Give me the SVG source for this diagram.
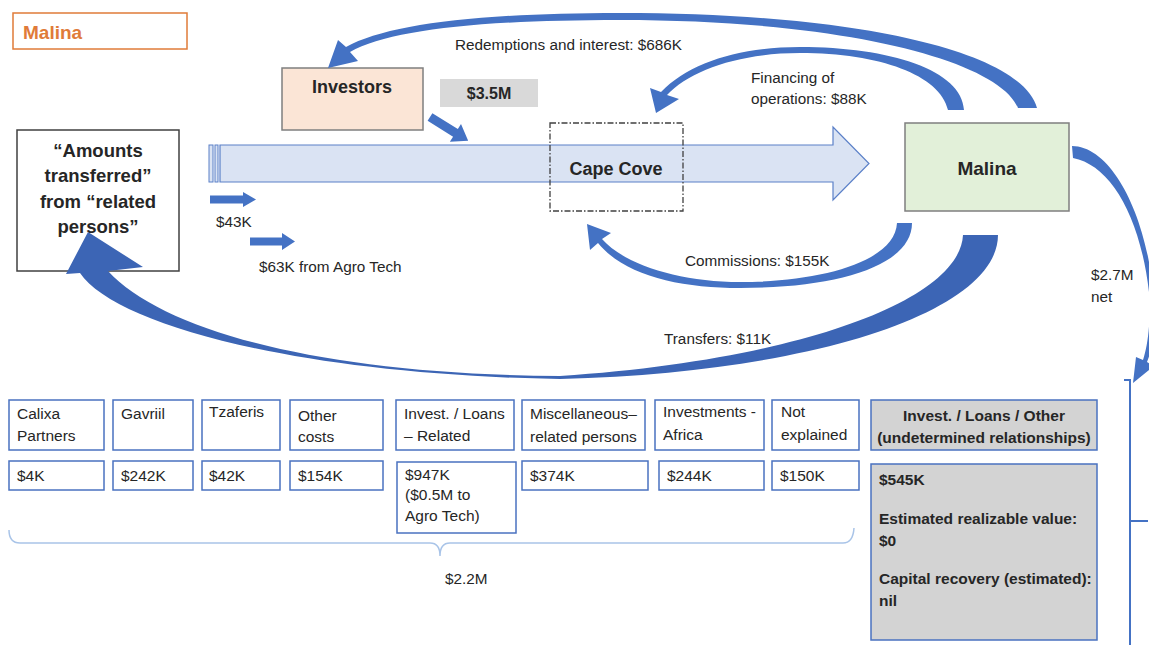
<svg xmlns="http://www.w3.org/2000/svg" width="1149" height="650" viewBox="0 0 1149 650">
<style>
text{font-family:"Liberation Sans",Arial,sans-serif;fill:#262626}
.lbl{font-size:15.3px}
.bx{font-size:15.5px}
.bb{font-size:15.5px;font-weight:bold}
.b{font-weight:bold}
.cell{fill:#fff;stroke:#4a72c0;stroke-width:1.5}
.gray{fill:#d3d3d3;stroke:#4a72c0;stroke-width:1.5}
.flow{fill:#4472c4}
</style>
<rect width="1149" height="650" fill="#fff"/>

<g id="title">
<rect x="13" y="13" width="174" height="36" fill="#fff" stroke="#e07b39" stroke-width="1.5"/>
<text x="23" y="39" class="b" style="font-size:19px;fill:#e07b39">Malina</text>
</g>

<g id="main-arrow">
<rect x="209" y="145" width="4" height="37" fill="#dae3f3" stroke="#5b80c8" stroke-width="1"/>
<rect x="215" y="145" width="3" height="37" fill="#dae3f3" stroke="#5b80c8" stroke-width="1"/>
<path d="M220,145 L833,145 L833,127 L869,163.5 L833,200 L833,182 L220,182 Z" fill="#dae3f3" stroke="#5b80c8" stroke-width="1.2"/>
</g>

<g id="investors">
<rect x="282" y="68" width="141" height="62" fill="#fbe5d6" stroke="#7f7f7f" stroke-width="1.5"/>
<text x="352" y="93" text-anchor="middle" class="b" style="font-size:18px">Investors</text>
</g>

<g id="amount35">
<rect x="440" y="79" width="98" height="28" fill="#d9d9d9"/>
<text x="489" y="99" text-anchor="middle" class="b" style="font-size:16px">$3.5M</text>
</g>

<g id="related-persons">
<rect x="17" y="130" width="162" height="141" fill="#fff" stroke="#404040" stroke-width="1.5"/>
<g class="b" style="font-size:18.5px" text-anchor="middle">
<text x="98" y="157">“Amounts</text>
<text x="98" y="182">transferred”</text>
<text x="98" y="208">from “related</text>
<text x="98" y="233">persons”</text>
</g>
</g>

<g id="cape-cove">
<rect x="550" y="123" width="133" height="88" fill="none" stroke="#404040" stroke-width="1.3" stroke-dasharray="6 2 1.5 2"/>
<text x="616" y="175" text-anchor="middle" class="b" style="font-size:18px">Cape Cove</text>
</g>

<g id="malina">
<rect x="905" y="123" width="164" height="88" fill="#e2f0d9" stroke="#7f7f7f" stroke-width="1.5"/>
<text x="987" y="175" text-anchor="middle" class="b" style="font-size:19px">Malina</text>
</g>

<g id="labels">
<text x="455" y="50" class="lbl">Redemptions and interest: $686K</text>
<text x="751" y="83" class="lbl">Financing of</text>
<text x="751" y="104" class="lbl">operations: $88K</text>
<text x="685" y="266" class="lbl">Commissions: $155K</text>
<text x="664" y="344" class="lbl">Transfers: $11K</text>
<text x="1091" y="280" class="lbl">$2.7M</text>
<text x="1091" y="302" class="lbl">net</text>
<text x="216" y="227" class="lbl">$43K</text>
<text x="259" y="272" class="lbl">$63K from Agro Tech</text>
<text x="445" y="584" class="lbl">$2.2M</text>
</g>

<g id="calixa">
<rect class="cell" x="9" y="400" width="95" height="50"/>
<text class="bx" x="17" y="419">Calixa</text><text class="bx" x="17" y="441">Partners</text>
<rect class="cell" x="9" y="461" width="95" height="29"/>
<text class="bx" x="17" y="481">$4K</text>
</g>
<g id="gavriil">
<rect class="cell" x="113" y="400" width="80" height="50"/>
<text class="bx" x="121" y="419">Gavriil</text>
<rect class="cell" x="113" y="461" width="80" height="29"/>
<text class="bx" x="121" y="481">$242K</text>
</g>
<g id="tzaferis">
<rect class="cell" x="202" y="400" width="78" height="50"/>
<text class="bx" x="209" y="417">Tzaferis</text>
<rect class="cell" x="202" y="461" width="78" height="29"/>
<text class="bx" x="209" y="481">$42K</text>
</g>
<g id="other-costs">
<rect class="cell" x="290" y="400" width="93" height="50"/>
<text class="bx" x="298" y="421">Other</text><text class="bx" x="298" y="442">costs</text>
<rect class="cell" x="290" y="461" width="93" height="29"/>
<text class="bx" x="298" y="481">$154K</text>
</g>
<g id="invest-related">
<rect class="cell" x="396" y="400" width="118" height="50"/>
<text class="bx" x="404" y="419">Invest. / Loans</text><text class="bx" x="404" y="441">– Related</text>
<rect class="cell" x="397" y="462" width="119" height="71"/>
<text class="bx" x="405" y="480">$947K</text><text class="bx" x="405" y="500">($0.5M to</text><text class="bx" x="405" y="521">Agro Tech)</text>
</g>
<g id="misc">
<rect class="cell" x="522" y="400" width="123" height="50"/>
<text class="bx" x="530" y="419">Miscellaneous–</text><text class="bx" x="530" y="442">related persons</text>
<rect class="cell" x="522" y="461" width="126" height="29"/>
<text class="bx" x="530" y="481">$374K</text>
</g>
<g id="africa">
<rect class="cell" x="655" y="400" width="109" height="50"/>
<text class="bx" x="663" y="417">Investments -</text><text class="bx" x="663" y="440">Africa</text>
<rect class="cell" x="659" y="461" width="105" height="29"/>
<text class="bx" x="667" y="481">$244K</text>
</g>
<g id="not-explained">
<rect class="cell" x="772" y="400" width="87" height="50"/>
<text class="bx" x="781" y="417">Not</text><text class="bx" x="781" y="440">explained</text>
<rect class="cell" x="772" y="461" width="87" height="29"/>
<text class="bx" x="780" y="481">$150K</text>
</g>
<g id="undetermined">
<rect class="gray" x="871" y="400" width="226" height="50"/>
<text class="bb" x="984" y="421" text-anchor="middle">Invest. / Loans / Other</text>
<text class="bb" x="984" y="443" text-anchor="middle">(undetermined relationships)</text>
<rect class="gray" x="871" y="464" width="226" height="176"/>
<text class="bb" x="879" y="485">$545K</text>
<text class="bb" x="879" y="524">Estimated realizable value:</text>
<text class="bb" x="879" y="546">$0</text>
<text class="bb" x="879" y="584">Capital recovery (estimated):</text>
<text class="bb" x="879" y="606">nil</text>
</g>

<g id="connectors">
<!-- Redemptions -->
<path class="flow" d="M1018,108 C1000,62 850,20 620,20 C480,20 390,30 350,52 L358,61 L328,68 L338,40 L346,47 C388,24 480,13 620,13 C860,13 1022,52 1037,108 Z"/>
<!-- Financing -->
<path class="flow" d="M948,110 C940,75 880,53 800,53 C740,53 690,70 667,95 L679,99 L656,113 L650,88 L661,92 C690,62 740,47 800,47 C890,47 962,70 964,110 Z"/>
<!-- Commissions -->
<path class="flow" d="M897,223 C895,262 820,282 740,282 C680,282 625,265 602,239 L611,233 L587,224 L590,250 L598,243 C625,276 680,288 740,288 C840,288 912,265 912,223 Z"/>
<!-- Transfers -->
<path class="flow" style="fill:#3c65b5" d="M963,235 C960,300 800,360 560,376 C330,375 165,333 108,271 L143,267 L88,232 L66,274 L80,273 C115,325 300,375 560,379 C820,372 998,310 998,235 Z"/>
<!-- 2.7M net -->
<path class="flow" d="M1072,146 C1110,146 1145,210 1153,290 C1156,330 1152,350 1147,362 L1154,366 L1133,383 L1136,357 L1143,360 C1148,345 1151,320 1149,292 C1140,215 1110,165 1073,158 Z"/>
<!-- Investors to flow -->
<path class="flow" transform="translate(430,117) rotate(32)" d="M0,-4.5 L30,-4.5 L30,-10.5 L45,0 L30,10.5 L30,4.5 L0,4.5 Z"/>
<!-- small arrows -->
<path class="flow" d="M210,195.5 L243,195.5 L243,192 L256,199.5 L243,207 L243,203.5 L210,203.5 Z"/>
<path class="flow" d="M250,237.5 L282,237.5 L282,233 L295,241.5 L282,250 L282,245.5 L250,245.5 Z"/>
<!-- brace -->
<path d="M9,530 Q9,543 20,543 L430,543 Q440,543 440,556 Q440,543 450,543 L843,543 Q853,543 854,528" fill="none" stroke="#a9c4e8" stroke-width="1.5"/>
<!-- right bracket -->
<path d="M1124,380 L1130,380 L1130,645 M1130,521 L1148,521" fill="none" stroke="#4472c4" stroke-width="2"/>
</g>
</svg>
